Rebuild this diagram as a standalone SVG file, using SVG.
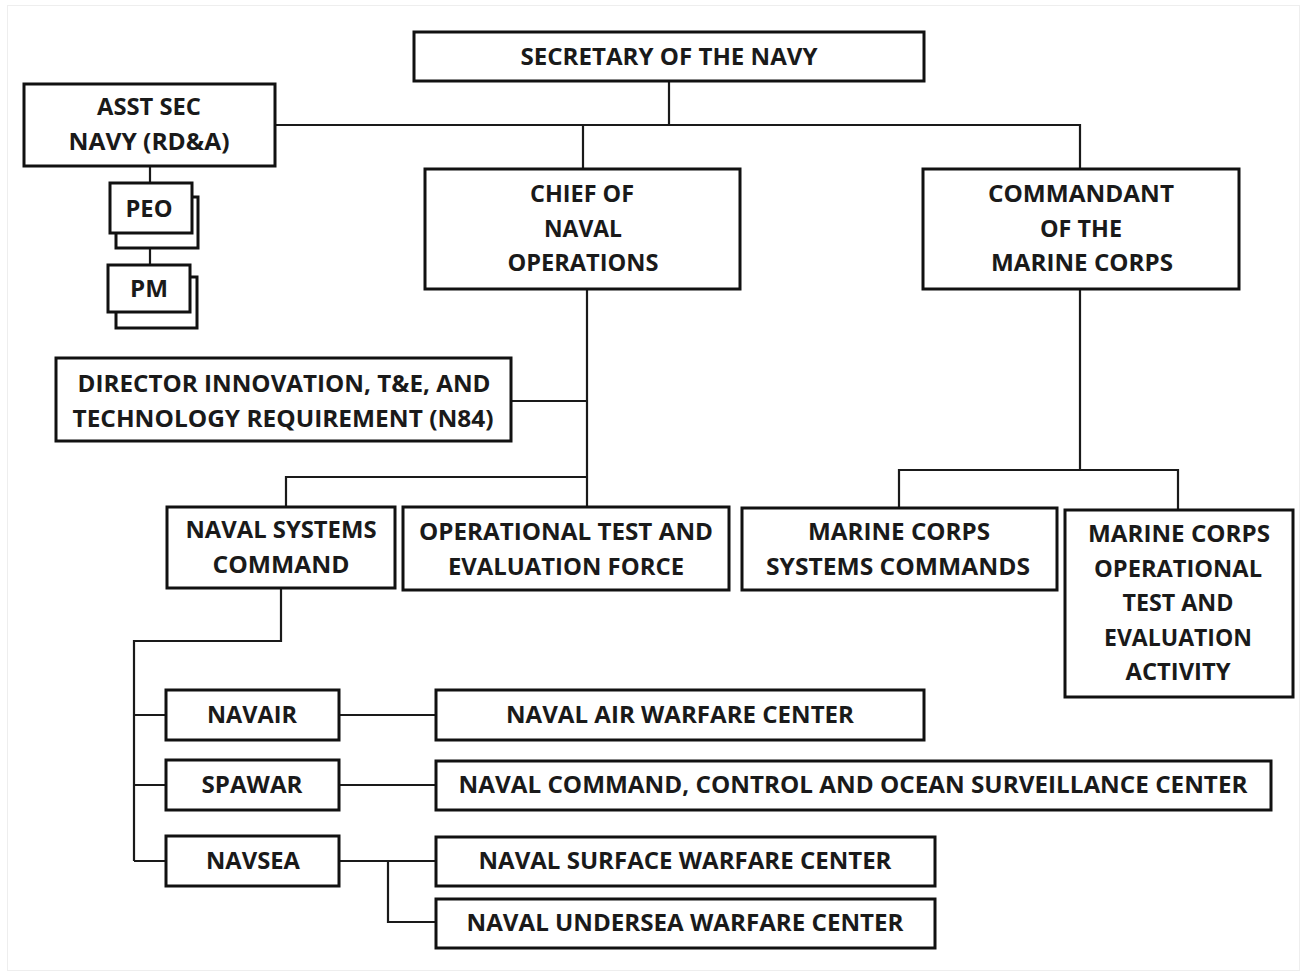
<svg xmlns="http://www.w3.org/2000/svg" width="1307" height="976" viewBox="0 0 1307 976">
<style>
.box{fill:#fff;stroke:#111;stroke-width:3}
.ln{fill:none;stroke:#1a1a1a;stroke-width:2.2}
text{font-family:"Open Sans","Noto Sans","DejaVu Sans",sans-serif;font-weight:bold;font-size:23px;fill:#1a1a1a;text-anchor:middle}
</style>
<rect x="0" y="0" width="1307" height="976" fill="#fff"/>
<rect x="7.5" y="5.5" width="1292" height="965" fill="none" stroke="#eee" stroke-width="1"/>
<g id="connectors">
<path class="ln" d="M669,81 V125 M275,125 H1080 V169 M583,125 V169"/>
<path class="ln" d="M150,166 V183 M150,248 V265"/>
<path class="ln" d="M587,289 V507 M511,401 H587 M587,477 H286 V507"/>
<path class="ln" d="M1080,289 V470 M899,508 V470 H1178 V510"/>
<path class="ln" d="M281,588 V641 H134 V861 M134,715 H166 M134,785 H166 M134,861 H166"/>
<path class="ln" d="M339,715 H436 M339,785 H436 M339,861 H436 M388,861 V922 H436"/>
</g>
<g id="secnav"><rect class="box" x="414" y="32" width="510" height="49"/><text x="669" y="65" textLength="297" lengthAdjust="spacingAndGlyphs">SECRETARY OF THE NAVY</text></g>
<g id="asstsec"><rect class="box" x="24" y="84" width="251" height="82"/><text x="149" y="115" textLength="104" lengthAdjust="spacingAndGlyphs">ASST SEC</text><text x="149" y="150" textLength="161" lengthAdjust="spacingAndGlyphs">NAVY (RD&amp;A)</text></g>
<g id="peo"><rect class="box" x="116" y="197" width="82" height="51"/><rect class="box" x="110" y="183" width="82" height="50"/><text x="149" y="217" textLength="47" lengthAdjust="spacingAndGlyphs">PEO</text></g>
<g id="pm"><rect class="box" x="116" y="277" width="81" height="51"/><rect class="box" x="108" y="265" width="82" height="47"/><text x="149" y="297" textLength="38" lengthAdjust="spacingAndGlyphs">PM</text></g>
<g id="cno"><rect class="box" x="425" y="169" width="315" height="120"/><text x="582" y="202" textLength="104" lengthAdjust="spacingAndGlyphs">CHIEF OF</text><text x="583" y="237" textLength="78" lengthAdjust="spacingAndGlyphs">NAVAL</text><text x="583" y="271" textLength="151" lengthAdjust="spacingAndGlyphs">OPERATIONS</text></g>
<g id="cmc"><rect class="box" x="923" y="169" width="316" height="120"/><text x="1081" y="202" textLength="186" lengthAdjust="spacingAndGlyphs">COMMANDANT</text><text x="1081" y="237" textLength="82" lengthAdjust="spacingAndGlyphs">OF THE</text><text x="1082" y="271" textLength="182" lengthAdjust="spacingAndGlyphs">MARINE CORPS</text></g>
<g id="n84"><rect class="box" x="56" y="358" width="455" height="83"/><text x="284" y="392" textLength="413" lengthAdjust="spacingAndGlyphs">DIRECTOR INNOVATION, T&amp;E, AND</text><text x="283" y="427" textLength="421" lengthAdjust="spacingAndGlyphs">TECHNOLOGY REQUIREMENT (N84)</text></g>
<g id="navsys"><rect class="box" x="167" y="507" width="228" height="81"/><text x="281" y="538" textLength="191" lengthAdjust="spacingAndGlyphs">NAVAL SYSTEMS</text><text x="281" y="573" textLength="137" lengthAdjust="spacingAndGlyphs">COMMAND</text></g>
<g id="otef"><rect class="box" x="403" y="507" width="326" height="83"/><text x="566" y="540" textLength="294" lengthAdjust="spacingAndGlyphs">OPERATIONAL TEST AND</text><text x="566" y="575" textLength="236" lengthAdjust="spacingAndGlyphs">EVALUATION FORCE</text></g>
<g id="mcsc"><rect class="box" x="742" y="508" width="315" height="82"/><text x="899" y="540" textLength="182" lengthAdjust="spacingAndGlyphs">MARINE CORPS</text><text x="898" y="575" textLength="264" lengthAdjust="spacingAndGlyphs">SYSTEMS COMMANDS</text></g>
<g id="mcotea"><rect class="box" x="1065" y="510" width="228" height="187"/><text x="1179" y="542" textLength="182" lengthAdjust="spacingAndGlyphs">MARINE CORPS</text><text x="1178" y="577" textLength="168" lengthAdjust="spacingAndGlyphs">OPERATIONAL</text><text x="1178" y="611" textLength="111" lengthAdjust="spacingAndGlyphs">TEST AND</text><text x="1178" y="646" textLength="148" lengthAdjust="spacingAndGlyphs">EVALUATION</text><text x="1178" y="680" textLength="105" lengthAdjust="spacingAndGlyphs">ACTIVITY</text></g>
<g id="navair"><rect class="box" x="166" y="690" width="173" height="50"/><text x="252" y="723" textLength="90" lengthAdjust="spacingAndGlyphs">NAVAIR</text></g>
<g id="spawar"><rect class="box" x="166" y="760" width="173" height="50"/><text x="252" y="793" textLength="101" lengthAdjust="spacingAndGlyphs">SPAWAR</text></g>
<g id="navsea"><rect class="box" x="166" y="836" width="173" height="50"/><text x="253" y="869" textLength="94" lengthAdjust="spacingAndGlyphs">NAVSEA</text></g>
<g id="nawc"><rect class="box" x="436" y="690" width="488" height="50"/><text x="680" y="723" textLength="348" lengthAdjust="spacingAndGlyphs">NAVAL AIR WARFARE CENTER</text></g>
<g id="nccosc"><rect class="box" x="436" y="761" width="835" height="49"/><text x="853" y="793" textLength="789" lengthAdjust="spacingAndGlyphs">NAVAL COMMAND, CONTROL AND OCEAN SURVEILLANCE CENTER</text></g>
<g id="nswc"><rect class="box" x="436" y="837" width="499" height="49"/><text x="685" y="869" textLength="413" lengthAdjust="spacingAndGlyphs">NAVAL SURFACE WARFARE CENTER</text></g>
<g id="nuwc"><rect class="box" x="436" y="899" width="499" height="49"/><text x="685" y="931" textLength="437" lengthAdjust="spacingAndGlyphs">NAVAL UNDERSEA WARFARE CENTER</text></g>
</svg>
